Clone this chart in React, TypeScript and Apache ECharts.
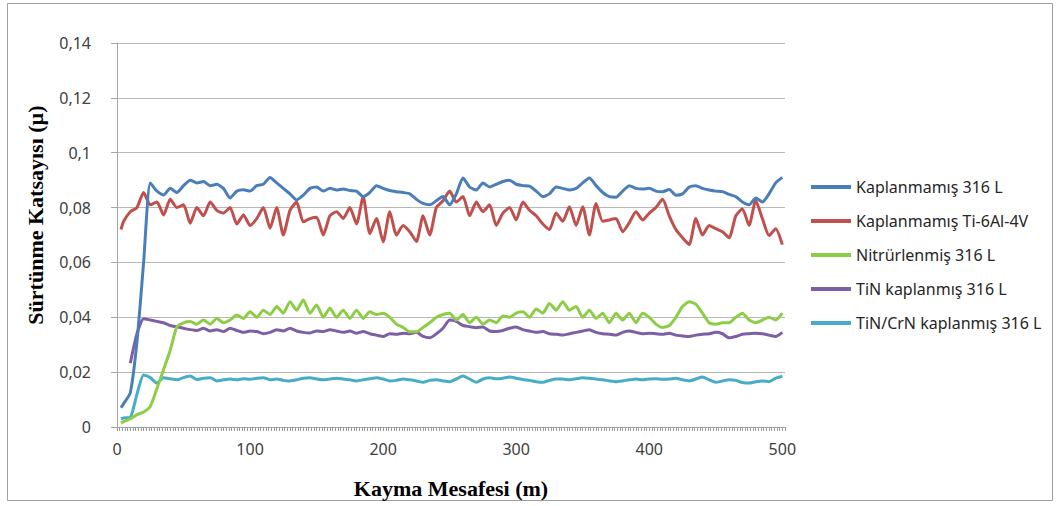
import React, { useEffect, useRef } from "react";
import * as echarts from "echarts";

const distance: number[] = [3];
for (let d = 5; d <= 500; d += 5) distance.push(d);

const seriesNames = [
  "Kaplanmamış 316 L",
  "Kaplanmamış Ti-6Al-4V",
  "Nitrürlenmiş 316 L",
  "TiN kaplanmış 316 L",
  "TiN/CrN kaplanmış 316 L",
];

const colors = ["#4a7ebb", "#c0504d", "#8dcd46", "#7d5fa6", "#46acc8"];

const yTicks = [0, 0.02, 0.04, 0.06, 0.08, 0.1, 0.12, 0.14];
const xTicks = [0, 100, 200, 300, 400, 500];

const kaplanmamis316L = [
  0.007, 0.0085, 0.0125, 0.031, 0.06, 0.089, 0.086, 0.0846, 0.087, 0.0855,
  0.088, 0.09, 0.089, 0.0895, 0.088, 0.0885, 0.087, 0.0835, 0.086, 0.0865,
  0.086, 0.088, 0.0885, 0.091, 0.089, 0.087, 0.085, 0.0828, 0.0845, 0.087,
  0.0875, 0.086, 0.087, 0.0864, 0.0868, 0.0862, 0.086, 0.084, 0.0855, 0.088,
  0.087, 0.0862, 0.0858, 0.0855, 0.085, 0.083, 0.0815, 0.081, 0.0825, 0.084,
  0.081, 0.085, 0.0908, 0.0875, 0.0864, 0.089, 0.0875, 0.0885, 0.0895, 0.09,
  0.0885, 0.088, 0.0878, 0.086, 0.084, 0.085, 0.0875, 0.087, 0.0864, 0.087,
  0.089, 0.0908, 0.088, 0.0855, 0.084, 0.0838, 0.086, 0.088, 0.087, 0.0868,
  0.087, 0.086, 0.0858, 0.0866, 0.0845, 0.085, 0.0875, 0.088, 0.087, 0.0864,
  0.086, 0.0858, 0.0848, 0.084, 0.082, 0.081, 0.0835, 0.082, 0.085, 0.089,
  0.091,
];

const kaplanmamisTi6Al4V = [
  0.072, 0.075, 0.0785, 0.08, 0.0855, 0.081, 0.082, 0.0773, 0.083, 0.08,
  0.081, 0.0743, 0.08, 0.077, 0.082, 0.079, 0.078, 0.08, 0.074, 0.0773,
  0.0735, 0.076, 0.08, 0.0725, 0.08, 0.07, 0.079, 0.082, 0.0748, 0.076,
  0.0765, 0.07, 0.077, 0.0785, 0.076, 0.08, 0.074, 0.084, 0.0705, 0.076,
  0.0675, 0.0785, 0.07, 0.0735, 0.0712, 0.0676, 0.077, 0.07, 0.08, 0.0825,
  0.086, 0.082, 0.084, 0.077, 0.082, 0.0785, 0.081, 0.0735, 0.078, 0.08,
  0.0755, 0.082, 0.079, 0.077, 0.074, 0.072, 0.078, 0.075, 0.0803, 0.0735,
  0.0803, 0.07, 0.0815, 0.075, 0.0755, 0.076, 0.0712, 0.0745, 0.0785, 0.0755,
  0.078, 0.08, 0.083, 0.077, 0.072, 0.069, 0.0665, 0.076, 0.07, 0.0735,
  0.0723, 0.0712, 0.069, 0.077, 0.0795, 0.0735, 0.0826, 0.076, 0.0698, 0.0723,
  0.0665,
];

const nitrurlenmis316L = [
  0.0015, 0.002, 0.003, 0.0045, 0.0055, 0.0075, 0.014, 0.021, 0.028, 0.0365,
  0.038, 0.0385, 0.0375, 0.039, 0.0375, 0.0396, 0.038, 0.039, 0.0408, 0.0396,
  0.042, 0.04, 0.0426, 0.041, 0.0439, 0.0415, 0.0457, 0.0426, 0.0463, 0.0415,
  0.0445, 0.04, 0.0433, 0.04, 0.0426, 0.0396, 0.0426, 0.0396, 0.042, 0.041,
  0.0415, 0.04, 0.0375, 0.0363, 0.0347, 0.0347, 0.0363, 0.038, 0.04, 0.041,
  0.0415, 0.039, 0.041, 0.038, 0.04, 0.0375, 0.039, 0.038, 0.0405, 0.04,
  0.0415, 0.042, 0.04, 0.043, 0.0415, 0.045, 0.0426, 0.0457, 0.0426, 0.0439,
  0.04, 0.0426, 0.0396, 0.0415, 0.038, 0.0415, 0.039, 0.0415, 0.038, 0.0415,
  0.04, 0.0375, 0.0363, 0.037, 0.04, 0.0439, 0.0457, 0.0448, 0.0415, 0.038,
  0.0375, 0.038, 0.038, 0.04, 0.0415, 0.039, 0.038, 0.039, 0.04, 0.039,
  0.0415,
];

const tinKaplanmis316L = [
  null, null, 0.0233, 0.034, 0.0395, 0.039, 0.0385, 0.038, 0.037, 0.0365,
  0.036, 0.0355, 0.0352, 0.036, 0.035, 0.0355, 0.0348, 0.036, 0.0352, 0.0345,
  0.035, 0.0348, 0.034, 0.0345, 0.0355, 0.035, 0.036, 0.035, 0.0345, 0.0343,
  0.035, 0.0348, 0.0355, 0.035, 0.0345, 0.035, 0.0342, 0.0348, 0.034, 0.0335,
  0.033, 0.034, 0.0338, 0.0342, 0.034, 0.0345, 0.033, 0.0325, 0.034, 0.036,
  0.039, 0.0385, 0.037, 0.0366, 0.0362, 0.0365, 0.035, 0.0348, 0.0352, 0.036,
  0.0365, 0.0355, 0.035, 0.0345, 0.0348, 0.034, 0.0338, 0.0335, 0.034, 0.0345,
  0.035, 0.0355, 0.0345, 0.034, 0.0338, 0.0335, 0.0345, 0.035, 0.0345, 0.034,
  0.0342, 0.034, 0.0338, 0.0342, 0.0335, 0.0332, 0.033, 0.0335, 0.0338, 0.034,
  0.0345, 0.034, 0.0325, 0.033, 0.0338, 0.034, 0.0342, 0.034, 0.0335, 0.033,
  0.0345,
];

const tinCrnKaplanmis316L = [
  0.003, 0.0033, 0.0035, 0.012, 0.019, 0.018, 0.016, 0.018, 0.0176, 0.0172,
  0.018, 0.0186, 0.0173, 0.0178, 0.018, 0.0168, 0.0172, 0.0175, 0.0172, 0.0176,
  0.0174, 0.0178, 0.018, 0.0172, 0.0175, 0.017, 0.0168, 0.0172, 0.0178, 0.018,
  0.0175, 0.0172, 0.0175, 0.0178, 0.0175, 0.0172, 0.0168, 0.0172, 0.0176, 0.018,
  0.0175, 0.0168, 0.017, 0.0175, 0.0172, 0.0168, 0.0163, 0.017, 0.0172, 0.0168,
  0.0165, 0.0175, 0.0186, 0.0175, 0.0163, 0.0175, 0.018, 0.0176, 0.0178, 0.0182,
  0.0178, 0.0173, 0.017, 0.0165, 0.0163, 0.017, 0.0175, 0.0175, 0.0172, 0.0176,
  0.018, 0.0178, 0.0175, 0.0172, 0.0168, 0.0165, 0.0168, 0.0172, 0.0175, 0.0172,
  0.0175, 0.0176, 0.0174, 0.0175, 0.0178, 0.0172, 0.0168, 0.0175, 0.0182, 0.0172,
  0.0163, 0.0168, 0.0172, 0.017, 0.0162, 0.016, 0.0165, 0.0168, 0.0165, 0.0178,
  0.0185,
];

const allValues = [
  kaplanmamis316L,
  kaplanmamisTi6Al4V,
  nitrurlenmis316L,
  tinKaplanmis316L,
  tinCrnKaplanmis316L,
];

const SANS = "'Noto Sans', sans-serif";
const SERIF = "'Liberation Serif', 'Times New Roman', serif";

export default function App() {
  const ref = useRef<HTMLDivElement>(null);
  useEffect(() => {
    if (!ref.current) return;
    const chart = echarts.init(ref.current, undefined, { renderer: "svg" });
    const series = allValues.map((vals, si) => ({
      name: seriesNames[si],
      type: "line",
      xAxisIndex: 0,
      yAxisIndex: 0,
      data: distance
        .map((d, i) => [d, vals[i]])
        .filter((p) => p[1] !== null),
      showSymbol: false,
      smooth: 0.2,
      lineStyle: { width: 3, color: colors[si], join: "round" },
      itemStyle: { color: colors[si] },
      z: 5 - si,
    }));
    chart.setOption({
      animation: false,
      backgroundColor: "#ffffff",
      grid: [
        { left: 117, right: 273, top: 43, bottom: 79, containLabel: false },
        { left: 117, right: 273, top: 427, height: 20, containLabel: false },
      ],
      xAxis: [
        {
          type: "value",
          gridIndex: 0,
          min: 0,
          max: 502,
          interval: 100,
          axisLine: { show: true, onZero: false, lineStyle: { color: "#a6a6a6", width: 1 } },
          axisTick: { show: false },
          splitLine: { show: false },
          axisLabel: {
            margin: 14,
            fontSize: 16,
            fontFamily: SANS,
            color: "#404040",
            formatter: (v: number) => (xTicks.includes(v) ? String(v) : ""),
          },
        },
        {
          type: "value",
          gridIndex: 1,
          position: "top",
          min: 0,
          max: 502,
          interval: 2,
          axisLine: { show: false, onZero: false },
          axisTick: { show: true, inside: true, length: 4, lineStyle: { color: "#9a9a9a", width: 1 } },
          splitLine: { show: false },
          axisLabel: { show: false },
        },
      ],
      yAxis: [
        {
          type: "value",
          gridIndex: 0,
          min: 0,
          max: 0.14,
          interval: 0.02,
          axisLine: { show: true, lineStyle: { color: "#a6a6a6", width: 1 } },
          axisTick: { show: true, length: 6, inside: false, lineStyle: { color: "#a6a6a6" } },
          splitLine: { show: true, lineStyle: { color: "#b8b8b8", width: 1 } },
          axisLabel: {
            margin: 26,
            fontSize: 16,
            fontFamily: SANS,
            color: "#404040",
            formatter: (v: number) => {
              const t = yTicks.find((y) => Math.abs(y - v) < 1e-9);
              return t === undefined ? "" : String(t).replace(".", ",");
            },
          },
        },
        {
          type: "value",
          gridIndex: 1,
          show: false,
          min: 0,
          max: 1,
        },
      ],
      legend: {
        orient: "vertical",
        left: 806,
        top: 174,
        icon: "rect",
        itemWidth: 40,
        itemHeight: 4,
        itemGap: 18,
        textStyle: { fontSize: 16, fontFamily: SANS, color: "#262626" },
        data: seriesNames,
      },
      graphic: [
        {
          type: "rect",
          shape: { x: 7.5, y: 3.5, width: 1045, height: 497 },
          style: { fill: "none", stroke: "#a0a0a0", lineWidth: 1 },
          silent: true,
        },
        {
          type: "text",
          x: 451,
          y: 488,
          style: {
            text: "Kayma Mesafesi (m)",
            font: `bold 22px ${SERIF}`,
            fill: "#000000",
            textAlign: "center",
            textVerticalAlign: "middle",
          },
        },
        {
          type: "text",
          x: 35,
          y: 215,
          rotation: Math.PI / 2,
          style: {
            text: "Sürtünme Katsayısı (µ)",
            font: `bold 22px ${SERIF}`,
            fill: "#000000",
            textAlign: "center",
            textVerticalAlign: "middle",
          },
        },
      ],
      series,
    });
    return () => chart.dispose();
  }, []);
  return (
    <div
      ref={ref}
      style={{ position: "absolute", left: 0, top: 0, width: 1058, height: 506 }}
    />
  );
}
